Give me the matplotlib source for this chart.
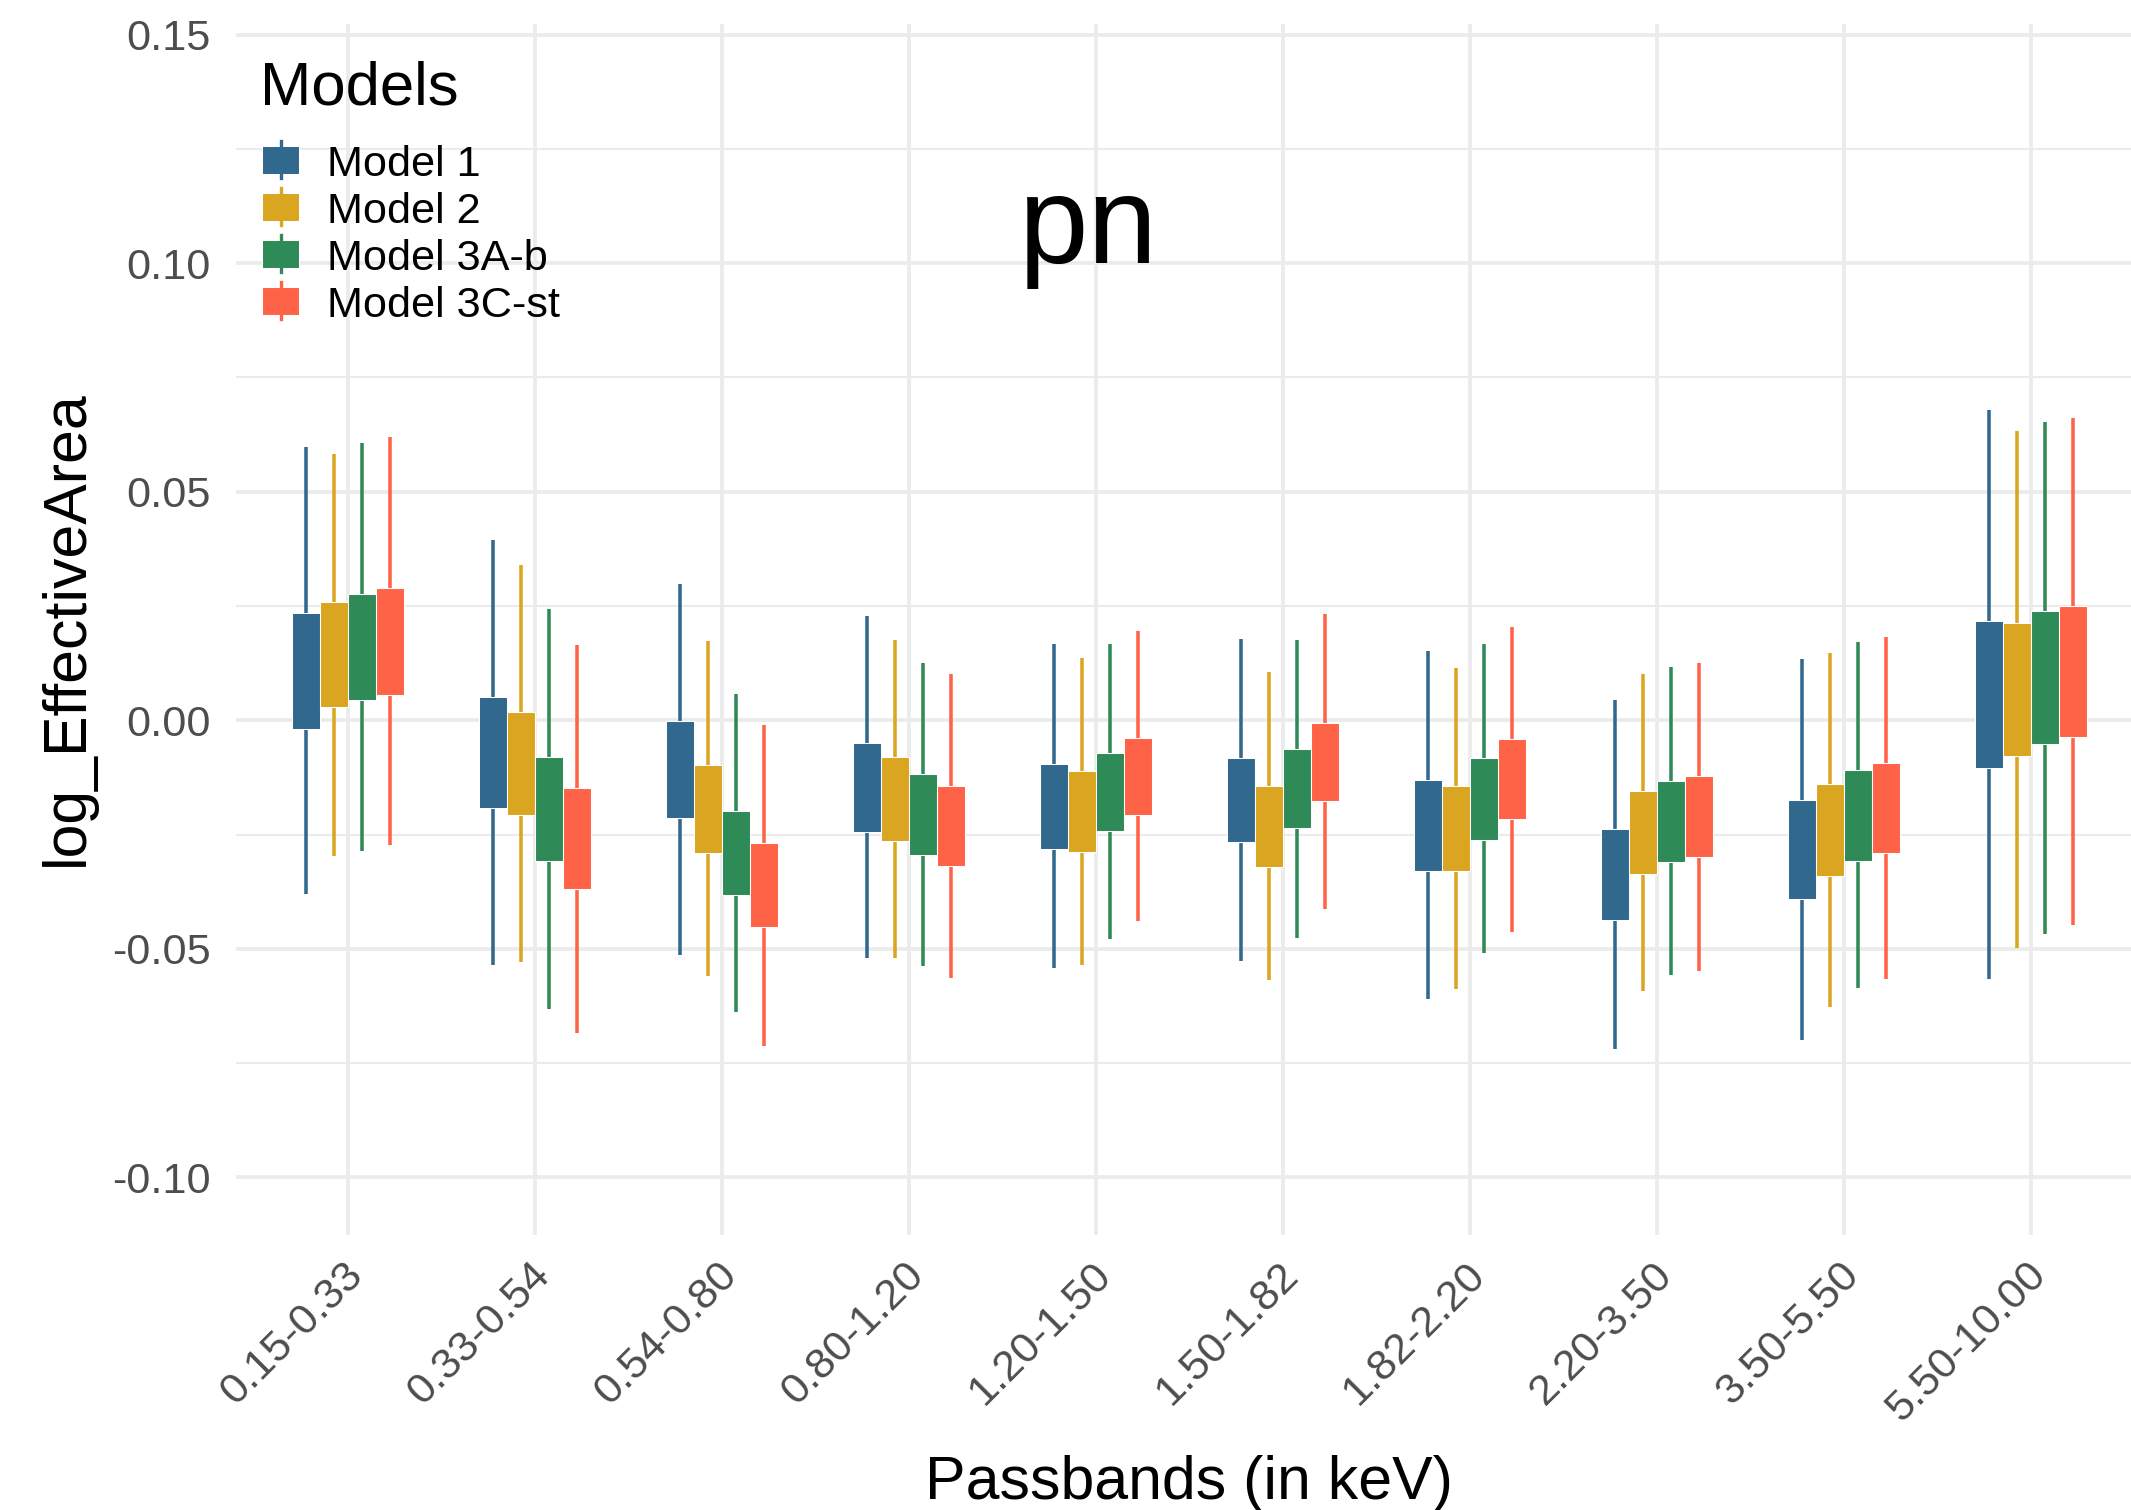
import matplotlib
matplotlib.use("Agg")
import matplotlib.pyplot as plt
from matplotlib.patches import Rectangle
from matplotlib.lines import Line2D
from matplotlib.transforms import ScaledTranslation
import numpy as np

# output size in pixels
W = 2131
H = 1510
DPI = 300

plt.rcParams['font.family'] = ['Liberation Sans', 'DejaVu Sans']

passbands = ["0.15-0.33", "0.33-0.54", "0.54-0.80", "0.80-1.20", "1.20-1.50",
             "1.50-1.82", "1.82-2.20", "2.20-3.50", "3.50-5.50", "5.50-10.00"]
models = ["Model 1", "Model 2", "Model 3A-b", "Model 3C-st"]
colors = ["#31688E", "#DAA520", "#2E8B57", "#FF6347"]

# whisker min / box low / box high / whisker max per passband
m1_min = [-0.0381, -0.0536, -0.0513, -0.0520, -0.0543, -0.0526, -0.0609, -0.0719, -0.0699, -0.0566]
m1_lo = [-0.0019, -0.0191, -0.0214, -0.0245, -0.0282, -0.0267, -0.0329, -0.0438, -0.0392, -0.0104]
m1_hi = [0.0234, 0.0051, -0.0002, -0.0049, -0.0095, -0.0082, -0.0130, -0.0237, -0.0174, 0.0216]
m1_max = [0.0598, 0.0394, 0.0298, 0.0227, 0.0166, 0.0178, 0.0151, 0.0044, 0.0135, 0.0678]

m2_min = [-0.0296, -0.0528, -0.0560, -0.0520, -0.0535, -0.0569, -0.0587, -0.0593, -0.0628, -0.0499]
m2_lo = [0.0028, -0.0208, -0.0291, -0.0265, -0.0288, -0.0321, -0.0329, -0.0337, -0.0341, -0.0079]
m2_hi = [0.0258, 0.0019, -0.0099, -0.0081, -0.0110, -0.0143, -0.0144, -0.0154, -0.0139, 0.0212]
m2_max = [0.0582, 0.0339, 0.0173, 0.0175, 0.0137, 0.0105, 0.0114, 0.0102, 0.0148, 0.0632]

m3a_min = [-0.0285, -0.0631, -0.0638, -0.0538, -0.0479, -0.0476, -0.0510, -0.0557, -0.0586, -0.0467]
m3a_lo = [0.0045, -0.0309, -0.0382, -0.0294, -0.0242, -0.0236, -0.0261, -0.0310, -0.0307, -0.0051]
m3a_hi = [0.0277, -0.0080, -0.0198, -0.0118, -0.0071, -0.0064, -0.0082, -0.0132, -0.0108, 0.0238]
m3a_max = [0.0607, 0.0243, 0.0058, 0.0126, 0.0166, 0.0175, 0.0167, 0.0116, 0.0171, 0.0653]

m3c_min = [-0.0274, -0.0684, -0.0712, -0.0563, -0.0440, -0.0414, -0.0464, -0.0548, -0.0567, -0.0449]
m3c_lo = [0.0056, -0.0370, -0.0453, -0.0319, -0.0207, -0.0176, -0.0217, -0.0300, -0.0291, -0.0037]
m3c_hi = [0.0289, -0.0148, -0.0269, -0.0144, -0.0039, -0.0005, -0.0042, -0.0122, -0.0094, 0.0250]
m3c_max = [0.0619, 0.0165, -0.0011, 0.0101, 0.0195, 0.0232, 0.0204, 0.0126, 0.0182, 0.0662]

y_major = [-0.10, -0.05, 0.00, 0.05, 0.10, 0.15]
y_minor = [-0.075, -0.025, 0.025, 0.075, 0.125]

GRID = "#EBEBEB"
TICK_COL = "#4D4D4D"
TICK_SIZE = 10.4
TITLE_SIZE = 14.6


def fx(px):
    return px / W


def fy(py):
    return 1 - py / H


fig = plt.figure(figsize=(W / DPI, H / DPI), dpi=DPI)
# panel goes a bit past the right edge, like the original
ax = fig.add_axes([fx(235.6), fy(1234.5), (2143 - 235.6) / W, (1234.5 - 24) / H])

x = np.arange(1, len(passbands) + 1)
series = [
    (m1_min, m1_lo, m1_hi, m1_max),
    (m2_min, m2_lo, m2_hi, m2_max),
    (m3a_min, m3a_lo, m3a_hi, m3a_max),
    (m3c_min, m3c_lo, m3c_hi, m3c_max),
]
offsets = [-0.225, -0.075, 0.075, 0.225]
box_w = 0.15

for (mn, lo, hi, mx), off, col in zip(series, offsets, colors):
    xs = x + off
    lo = np.array(lo)
    hi = np.array(hi)
    ax.vlines(xs, mn, mx, color=col, lw=0.85, zorder=2)
    ax.bar(xs, hi - lo, bottom=lo, width=box_w, color=col,
           edgecolor="white", linewidth=0.25, zorder=3)

ax.set_xlim(0.4, 10.6)
ax.set_ylim(-0.1125, 0.1523)

ax.set_xticks(x)
ax.set_xticklabels(passbands)
ax.set_yticks(y_major)
ax.set_yticklabels(["%.2f" % v for v in y_major])
ax.set_yticks(y_minor, minor=True)

ax.grid(which="major", color=GRID, lw=0.9, zorder=0)
ax.grid(which="minor", axis="y", color=GRID, lw=0.5, zorder=0)
ax.set_axisbelow(True)
for s in ax.spines.values():
    s.set_visible(False)

ax.tick_params(axis="both", which="both", length=0)
ax.tick_params(axis="y", pad=5.9, labelsize=TICK_SIZE, labelcolor=TICK_COL)
ax.tick_params(axis="x", pad=4.9, labelsize=TICK_SIZE, labelcolor=TICK_COL)
plt.setp(ax.get_xticklabels(), rotation=45, ha="right", va="top",
         rotation_mode="anchor")
# nudge the rotated labels a few px left
shift = ScaledTranslation(-5 / DPI, 0, fig.dpi_scale_trans)
for lab in ax.get_xticklabels():
    lab.set_transform(lab.get_transform() + shift)

# big panel label
ax.text(4.963, 0.10, "pn", ha="center", va="baseline", fontsize=30, color="black")

# axis titles
fig.text(fx(1189), fy(1499), "Passbands (in keV)", ha="center", va="baseline",
         fontsize=TITLE_SIZE)
fig.text(fx(67), fy(628), "log_EffectiveArea", ha="center", va="center",
         rotation=90, fontsize=TITLE_SIZE)

# legend, drawn by hand in pixel positions
fig.text(fx(259.6), fy(104.6), "Models", ha="left", va="baseline", fontsize=14.8)
for i, (name, col) in enumerate(zip(models, colors)):
    cy = 159.7 + 47 * i
    fig.add_artist(Line2D([fx(280.6), fx(280.6)], [fy(cy - 18.7), fy(cy + 18.7)],
                          transform=fig.transFigure, color=col, lw=0.8))
    fig.add_artist(Rectangle((fx(262), fy(cy + 14)), 37.3 / W, 28 / H,
                             transform=fig.transFigure, facecolor=col,
                             edgecolor="white", lw=0.25))
    fig.text(fx(327), fy(cy + 16), name, ha="left", va="baseline", fontsize=10.4)

fig.savefig("out.png", dpi=DPI)
